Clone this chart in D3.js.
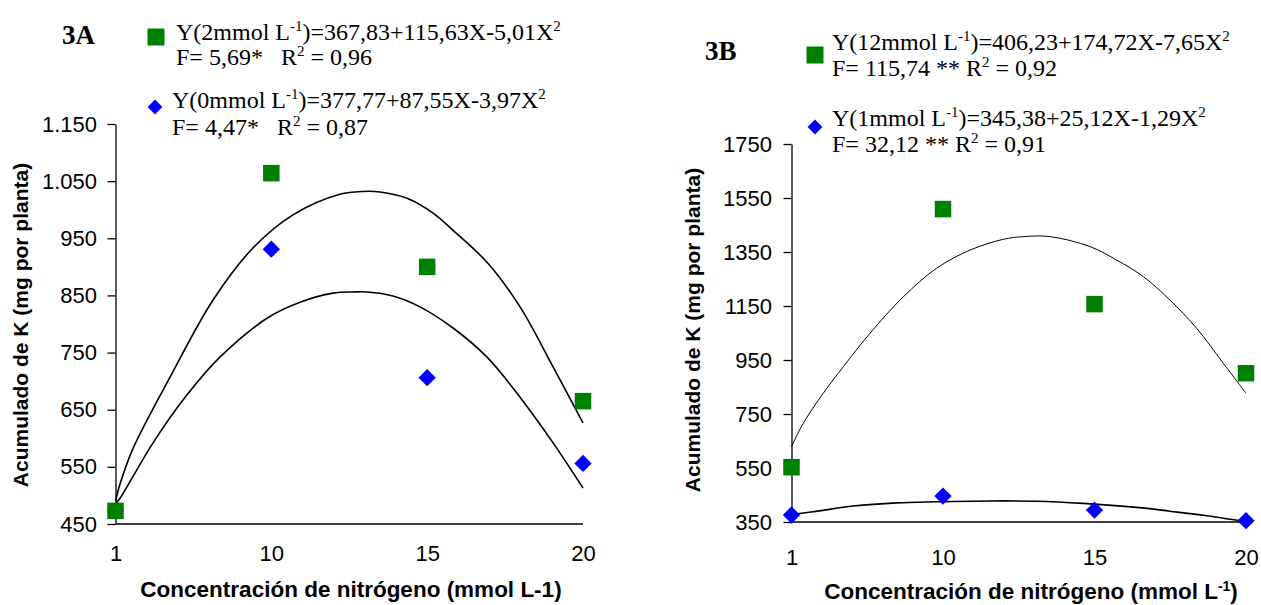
<!DOCTYPE html>
<html>
<head>
<meta charset="utf-8">
<script src="https://cdn.jsdelivr.net/npm/d3@7"></script>
<style>
  html, body { margin: 0; padding: 0; background: #fff; }
  svg { display: block; }
</style>
</head>
<body>
<svg id="chart" width="1261" height="605"></svg>
<script>
// ---------- DATA ----------
const categories = ["1", "10", "15", "20"];

// Panel 3A
const yTicksA = [450, 550, 650, 750, 850, 950, 1050, 1150];
const yTickLabelsA = ["450", "550", "650", "750", "850", "950", "1.050", "1.150"];
const seriesA_2mmol = [473, 1064, 900, 665];   // green squares
const seriesA_0mmol = [473, 931, 706, 556];    // blue diamonds (first hidden under square)
// trend curves: position along the category axis (0..3) and value
const curveA_2mmol_pos = [0, 0.029, 0.112, 0.35, 0.626, 0.882, 1.139, 1.44, 1.588, 1.697, 1.871, 2.038, 2.166, 2.384, 2.596, 2.808, 3.0];
const curveA_2mmol_val = [490, 520, 582, 707, 842, 933, 991, 1027, 1032, 1031, 1020, 994, 964, 908, 830, 725, 627];
const curveA_0mmol_pos = [0, 0.029, 0.241, 0.459, 0.67, 0.972, 1.184, 1.396, 1.524, 1.614, 1.78, 1.954, 2.166, 2.384, 2.596, 2.808, 3.0];
const curveA_0mmol_val = [485, 495, 592, 676, 742, 810, 838, 854, 856, 856, 849, 830, 793, 742, 672, 592, 513];

// Panel 3B
const yTicksB = [350, 550, 750, 950, 1150, 1350, 1550, 1750];
const yTickLabelsB = ["350", "550", "750", "950", "1150", "1350", "1550", "1750"];
const seriesB_12mmol = [553, 1509, 1157, 901];  // green squares
const seriesB_1mmol = [376, 446, 394, 355];     // blue diamonds
const curveB_12mmol_pos = [0, 0.078, 0.21, 0.342, 0.518, 0.738, 0.958, 1.178, 1.398, 1.53, 1.706, 1.97, 2.147, 2.322, 2.498, 2.675, 2.85, 3.0];
const curveB_12mmol_val = [629, 716, 827, 925, 1049, 1184, 1290, 1357, 1397, 1407, 1407, 1370, 1320, 1259, 1172, 1067, 938, 827];
const curveB_1mmol_pos = [0, 0.144, 0.408, 0.694, 0.958, 1.3, 1.618, 1.926, 2.279, 2.498, 2.718, 3.0];
const curveB_1mmol_val = [378, 388, 409, 421, 425, 428, 427, 419, 404, 390, 375, 351];

// ---------- DRAW ----------
const svg = d3.select("#chart");
const GREEN = "#008000", BLUE = "#0000ff";
const SANS = "'Liberation Sans', Arial, sans-serif";
const SERIF = "'Liberation Serif', 'Times New Roman', serif";

function panel(cfg) {
  const g = svg.append("g");
  const x = d3.scaleLinear().domain([0, categories.length - 1]).range([cfg.x0, cfg.x1]);
  const y = d3.scaleLinear().domain([cfg.yTicks[0], cfg.yTicks[cfg.yTicks.length - 1]]).range([cfg.yBottom, cfg.yTop]);

  // y axis
  const yAxis = d3.axisLeft(y).tickValues(cfg.yTicks)
    .tickFormat((d, i) => cfg.yLabels[i]).tickSize(cfg.tickLen).tickSizeOuter(0).tickPadding(cfg.tickPad);
  const ga = g.append("g").attr("transform", `translate(${cfg.x0},0)`).call(yAxis);
  ga.select(".domain").attr("stroke", "#000").attr("stroke-width", 1.3);
  ga.selectAll(".tick line").attr("stroke", "#000").attr("stroke-width", 1.3);
  ga.selectAll(".tick text").attr("font-family", SANS).attr("font-size", 22).attr("fill", "#000");

  // x axis (categorical positions)
  const xAxis = d3.axisBottom(x).tickValues(d3.range(categories.length))
    .tickFormat(i => categories[i]).tickSize(0).tickSizeOuter(0).tickPadding(cfg.xTickPad);
  const gx = g.append("g").attr("transform", `translate(0,${cfg.yBottom})`).call(xAxis);
  gx.select(".domain").attr("stroke", "#000").attr("stroke-width", 1.3)
    .attr("d", `M${cfg.x0},0H${cfg.xAxisEnd}`);
  gx.selectAll(".tick text").attr("font-family", SANS).attr("font-size", 22).attr("fill", "#000");

  // trend curves
  const line = d3.line().x(d => x(d[0])).y(d => y(d[1])).curve(d3.curveCatmullRom.alpha(0.5));
  cfg.curves.forEach(c => {
    g.append("path").datum(c.pos.map((p, i) => [p, c.val[i]]))
      .attr("d", line).attr("fill", "none").attr("stroke", "#000").attr("stroke-width", c.w);
  });

  // diamonds then squares
  const diamond = d3.symbol().type(d3.symbolSquare).size(cfg.diamondSize);
  g.selectAll(".dia").data(cfg.diamonds).enter().append("path")
    .attr("d", diamond)
    .attr("transform", (d, i) => `translate(${x(i)},${y(d)}) rotate(45)`)
    .attr("fill", BLUE);
  g.selectAll(".sq").data(cfg.squares).enter().append("rect")
    .attr("x", (d, i) => x(i) - cfg.sq / 2).attr("y", d => y(d) - cfg.sq / 2)
    .attr("width", cfg.sq).attr("height", cfg.sq).attr("fill", GREEN);

  // axis titles
  g.append("text").attr("transform", `translate(${cfg.yTitleX},${cfg.yTitleY}) rotate(-90)`)
    .attr("text-anchor", "middle").attr("font-family", SANS).attr("font-weight", "bold")
    .attr("font-size", 21).text("Acumulado de K (mg por planta)");
  const xt = g.append("text").attr("x", cfg.xTitleX).attr("y", cfg.xTitleY)
    .attr("text-anchor", "middle").attr("font-family", SANS).attr("font-weight", "bold").attr("font-size", 22.5);
  cfg.xTitle(xt);

  return { x, y };
}

function legendEntry(sym, sx, sy, tx, ty1, ty2, pre, eq, line2a, line2b) {
  if (sym === "sq") {
    svg.append("rect").attr("x", sx - 8.5).attr("y", sy - 8.5).attr("width", 17).attr("height", 17).attr("fill", GREEN);
  } else {
    svg.append("path").attr("d", d3.symbol().type(d3.symbolSquare).size(110))
      .attr("transform", `translate(${sx},${sy}) rotate(45)`).attr("fill", BLUE);
  }
  const FS = 24, SUP = 15, DY = 9;
  const t1 = svg.append("text").attr("x", tx).attr("y", ty1).attr("font-family", SERIF).attr("font-size", FS);
  t1.append("tspan").text(pre);
  t1.append("tspan").attr("dy", -DY).attr("font-size", SUP).text("-1");
  t1.append("tspan").attr("dy", DY).text(eq);
  t1.append("tspan").attr("dy", -DY).attr("font-size", SUP).text("2");
  const t2 = svg.append("text").attr("x", tx).attr("y", ty2).attr("font-family", SERIF).attr("font-size", FS)
    .style("white-space", "pre");
  t2.append("tspan").text(line2a);
  t2.append("tspan").attr("dy", -DY).attr("font-size", SUP).text("2");
  t2.append("tspan").attr("dy", DY).text(line2b);
}

// Panel A
panel({
  x0: 115.5, x1: 583, xAxisEnd: 583, yTop: 124, yBottom: 524,
  yTicks: yTicksA, yLabels: yTickLabelsA, tickLen: 8, tickPad: 10.5, xTickPad: 21,
  squares: seriesA_2mmol, diamonds: seriesA_0mmol, sq: 16.5, diamondSize: 150,
  curves: [{ pos: curveA_2mmol_pos, val: curveA_2mmol_val, w: 1.6 }, { pos: curveA_0mmol_pos, val: curveA_0mmol_val, w: 1.6 }],
  yTitleX: 28, yTitleY: 325, xTitleX: 351, xTitleY: 597,
  xTitle: t => t.text("Concentración de nitrógeno (mmol L-1)")
});

// Panel B
panel({
  x0: 791.5, x1: 1246, xAxisEnd: 1250, yTop: 144, yBottom: 522,
  yTicks: yTicksB, yLabels: yTickLabelsB, tickLen: 8, tickPad: 11.5, xTickPad: 27,
  squares: seriesB_12mmol, diamonds: seriesB_1mmol, sq: 16.5, diamondSize: 150,
  curves: [{ pos: curveB_12mmol_pos, val: curveB_12mmol_val, w: 1 }, { pos: curveB_1mmol_pos, val: curveB_1mmol_val, w: 1.6 }],
  yTitleX: 700, yTitleY: 330, xTitleX: 1031, xTitleY: 599,
  xTitle: t => {
    t.append("tspan").text("Concentración de nitrógeno (mmol L");
    t.append("tspan").attr("dy", -8).attr("font-size", 14).text("-1");
    t.append("tspan").attr("dy", 8).text(")");
  }
});

// Panel labels
svg.append("text").attr("x", 62).attr("y", 44).attr("font-family", SERIF).attr("font-weight", "bold")
  .attr("font-size", 27).text("3A");
svg.append("text").attr("x", 705).attr("y", 60).attr("font-family", SERIF).attr("font-weight", "bold")
  .attr("font-size", 27).text("3B");

// Legends
legendEntry("sq", 156, 37, 176, 40, 65, "Y(2mmol L", ")=367,83+115,63X-5,01X", "F= 5,69*   R", " = 0,96");
legendEntry("dia", 155, 107, 172, 108, 135, "Y(0mmol L", ")=377,77+87,55X-3,97X", "F= 4,47*   R", " = 0,87");
legendEntry("sq", 815, 55, 832, 50, 76, "Y(12mmol L", ")=406,23+174,72X-7,65X", "F= 115,74 ** R", " = 0,92");
legendEntry("dia", 815, 127, 832, 126, 152, "Y(1mmol L", ")=345,38+25,12X-1,29X", "F= 32,12 ** R", " = 0,91");
</script>
</body>
</html>
